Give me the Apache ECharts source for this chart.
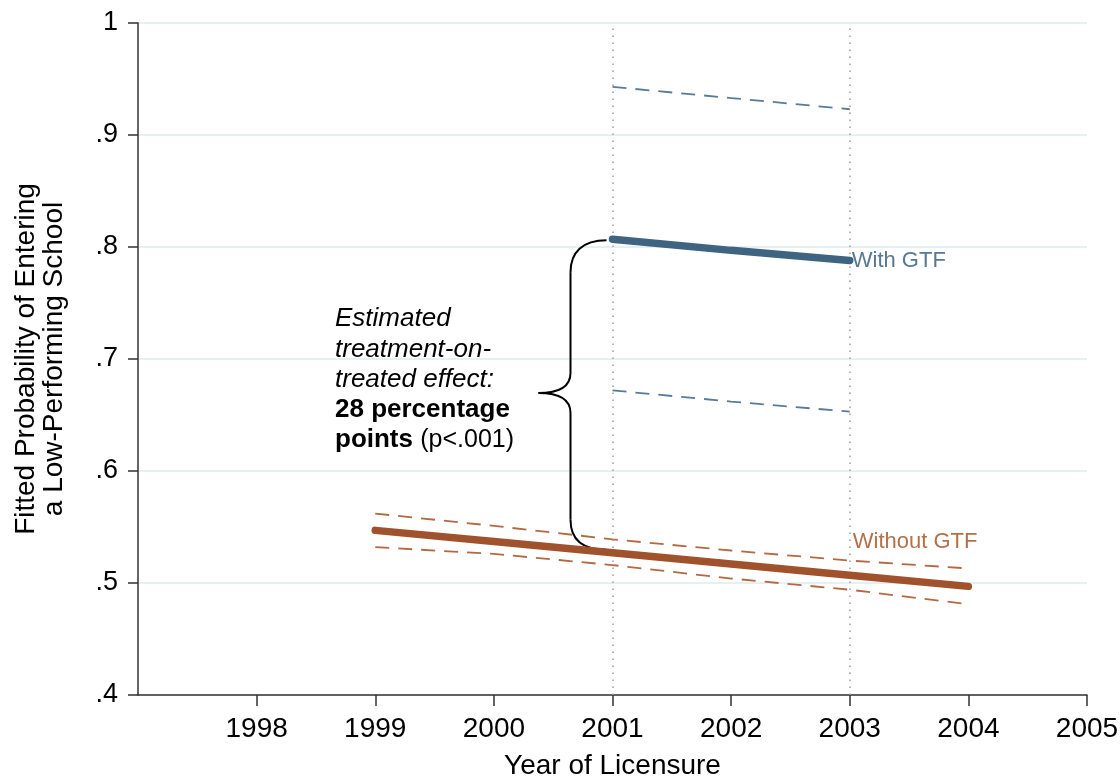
<!DOCTYPE html>
<html><head><meta charset="utf-8">
<script src="https://cdn.jsdelivr.net/npm/echarts@6/dist/echarts.min.js"></script>
<style>html,body{margin:0;padding:0;background:#fff}#c{width:1120px;height:783px}</style>
</head><body><div id="c"></div>
<script>
const xTicks = [1998, 1999, 2000, 2001, 2002, 2003, 2004, 2005];
const yTickLabels = ['.4', '.5', '.6', '.7', '.8', '.9', '1'];
const withYears = [2001, 2002, 2003];
const withFit = [0.807, 0.797, 0.788];
const withUpper = [0.943, 0.933, 0.923];
const withLower = [0.672, 0.662, 0.653];
const withoutYears = [1999, 2000, 2001, 2002, 2003, 2004];
const withoutFit = [0.547, 0.537, 0.527, 0.517, 0.507, 0.497];
const withoutUpper = [0.562, 0.551, 0.539, 0.529, 0.520, 0.513];
const withoutLower = [0.532, 0.526, 0.516, 0.504, 0.494, 0.481];
const refYears = [2001, 2003];

const FONT = "'Liberation Sans', Arial, Helvetica, sans-serif";
const zip = (xs, ys) => xs.map((x, i) => [x, ys[i]]);
const BLUE = '#3e6482', BLUE_CI = '#587b98', BLUE_TXT = '#587892';
const RUST = '#a0522d', RUST_CI = '#b56840', RUST_TXT = '#b4704a';

const chart = echarts.init(document.getElementById('c'), null, {renderer: 'canvas'});
const dashed = (name, data, color, extra) => Object.assign({
  name, type: 'line', data, showSymbol: false, symbol: 'none', silent: true,
  lineStyle: {color, width: 1.8, type: [14, 9]}, z: 2
}, extra || {});

chart.setOption({
  animation: false,
  backgroundColor: '#ffffff',
  grid: {left: 138, right: 33, top: 23, bottom: 88, containLabel: false, outerBoundsMode: 'none'},
  xAxis: {
    type: 'value', min: 1997, max: 2005, interval: 1,
    name: 'Year of Licensure', nameLocation: 'middle', nameGap: 57,
    nameTextStyle: {fontFamily: FONT, fontSize: 28, color: '#000'},
    axisLine: {show: true, onZero: false, lineStyle: {color: '#333', width: 1.5}},
    axisTick: {show: true, length: 11, customValues: xTicks, lineStyle: {color: '#333', width: 1.5}},
    axisLabel: {customValues: xTicks, formatter: v => String(v), margin: 20,
      fontFamily: FONT, fontSize: 28, color: '#000'},
    splitLine: {show: false}
  },
  yAxis: {
    type: 'value', min: 0.4, max: 1, interval: 0.1,
    name: 'Fitted Probability of Entering\na Low-Performing School',
    nameLocation: 'middle', nameGap: 70,
    nameTextStyle: {fontFamily: FONT, fontSize: 28, lineHeight: 28, color: '#000', align: 'center'},
    axisLine: {show: true, onZero: false, lineStyle: {color: '#333', width: 1.5}},
    axisTick: {show: true, length: 10, lineStyle: {color: '#333', width: 1.5}},
    axisLabel: {formatter: v => yTickLabels[Math.round((v - 0.4) * 10)], margin: 20,
      fontFamily: FONT, fontSize: 27, color: '#000'},
    splitLine: {show: true, lineStyle: {color: '#e6eff1', width: 2}}
  },
  series: [
    dashed('With GTF upper', zip(withYears, withUpper), BLUE_CI, {
      markLine: {
        silent: true, symbol: 'none', label: {show: false},
        lineStyle: {color: '#a0a0a0', width: 1.6, type: [1.5, 5.5]},
        data: refYears.map(y => ({xAxis: y}))
      }
    }),
    dashed('With GTF lower', zip(withYears, withLower), BLUE_CI),
    dashed('Without GTF upper', zip(withoutYears, withoutUpper), RUST_CI),
    dashed('Without GTF lower', zip(withoutYears, withoutLower), RUST_CI),
    {
      name: 'With GTF', type: 'line', data: zip(withYears, withFit), showSymbol: false, symbol: 'none',
      lineStyle: {color: BLUE, width: 7.5, cap: 'round'}, z: 5,
      endLabel: {show: true, formatter: 'With GTF', distance: 2, color: BLUE_TXT,
        fontFamily: FONT, fontSize: 22}
    },
    {
      name: 'Without GTF', type: 'line', data: zip(withoutYears, withoutFit), showSymbol: false, symbol: 'none',
      lineStyle: {color: RUST, width: 7.5, cap: 'round'}, z: 5,
      markPoint: {
        silent: true, symbol: 'circle', symbolSize: 0,
        data: [{coord: [withoutYears[4], withoutFit[4]],
          label: {show: true, position: 'right', distance: 3, offset: [0, -33], formatter: 'Without GTF',
            color: RUST_TXT, fontFamily: FONT, fontSize: 22}}]
      }
    }
  ]
});

// Brace linking the two fitted values at 2001, and the annotation text
const px = (x, y) => chart.convertToPixel({gridIndex: 0}, [x, y]);
const x01 = px(withYears[0], withFit[0])[0];
const topY = px(withYears[0], withFit[0])[1] + 1;
const botY = px(withoutYears[2], withoutFit[2])[1] - 3;
const ex = x01 - 6, vx = x01 - 42, tx = x01 - 74;
const tipY = (topY + botY) / 2 - 2;
const bs = {stroke: '#000', lineWidth: 2, fill: 'none'};
chart.setOption({
  graphic: [
    {type: 'bezierCurve', silent: true, shape: {x1: ex, y1: topY, cpx1: vx + 12, cpy1: topY, cpx2: vx, cpy2: topY + 12, x2: vx, y2: topY + 32}, style: bs},
    {type: 'line', silent: true, shape: {x1: vx, y1: topY + 32, x2: vx, y2: tipY - 20}, style: bs},
    {type: 'bezierCurve', silent: true, shape: {x1: vx, y1: tipY - 20, cpx1: vx, cpy1: tipY - 4, cpx2: vx - 16, cpy2: tipY, x2: tx, y2: tipY}, style: bs},
    {type: 'bezierCurve', silent: true, shape: {x1: tx, y1: tipY, cpx1: vx - 16, cpy1: tipY, cpx2: vx, cpy2: tipY + 4, x2: vx, y2: tipY + 20}, style: bs},
    {type: 'line', silent: true, shape: {x1: vx, y1: tipY + 20, x2: vx, y2: botY - 30}, style: bs},
    {type: 'bezierCurve', silent: true, shape: {x1: vx, y1: botY - 30, cpx1: vx, cpy1: botY - 10, cpx2: vx + 12, cpy2: botY, x2: ex, y2: botY}, style: bs},
    {
      type: 'text', left: 335, top: 306, silent: true, z: 10,
      style: {
        text: '{i|Estimated}\n{i|treatment-on-}\n{i|treated effect:}\n{b|28 percentage}\n{b|points} {n|(p<.001)}',
        fill: '#000', font: '26px ' + FONT,
        rich: {
          i: {fontStyle: 'italic', fontSize: 26, fontFamily: FONT, lineHeight: 30.3, fill: '#000'},
          b: {fontWeight: 'bold', fontSize: 26, fontFamily: FONT, lineHeight: 30.3, fill: '#000'},
          n: {fontSize: 25, fontFamily: FONT, lineHeight: 30.3, fill: '#000'}
        }
      }
    }
  ]
});
</script></body></html>
